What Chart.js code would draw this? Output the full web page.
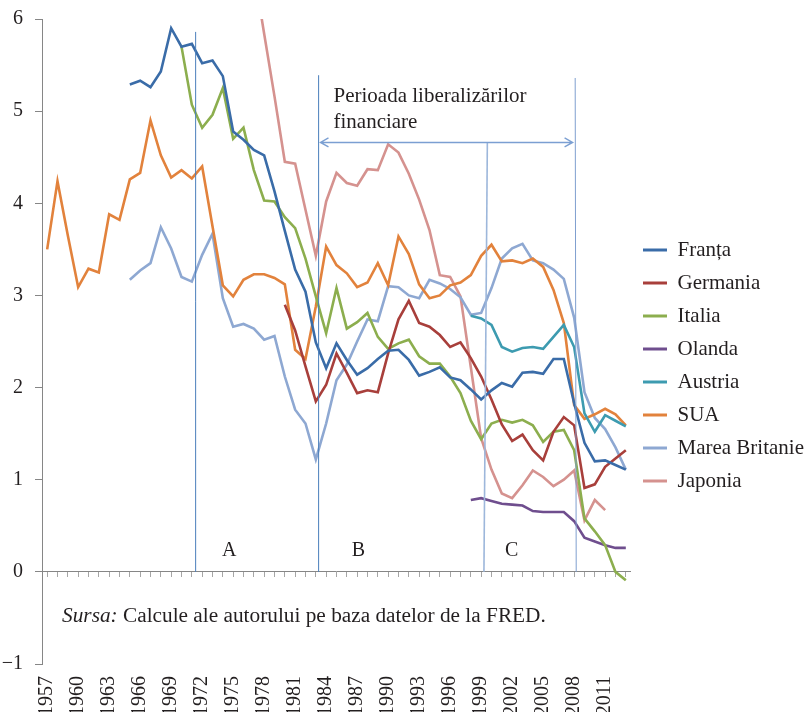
<!DOCTYPE html>
<html>
<head>
<meta charset="utf-8">
<script src="https://cdn.jsdelivr.net/npm/chart.js@4.4.1/dist/chart.umd.min.js"></script>
<style>
  html, body { margin: 0; padding: 0; background: #fff; }
  #wrap { width: 806px; height: 717px; }
</style>
</head>
<body>
<div id="wrap"><canvas id="grafic" width="806" height="717"></canvas></div>
<script>
// ani 1957 - 2013
const ani = [1957, 1958, 1959, 1960, 1961, 1962, 1963, 1964, 1965, 1966,
  1967, 1968, 1969, 1970, 1971, 1972, 1973, 1974, 1975, 1976,
  1977, 1978, 1979, 1980, 1981, 1982, 1983, 1984, 1985, 1986,
  1987, 1988, 1989, 1990, 1991, 1992, 1993, 1994, 1995, 1996,
  1997, 1998, 1999, 2000, 2001, 2002, 2003, 2004, 2005, 2006,
  2007, 2008, 2009, 2010, 2011, 2012, 2013]

const _ = null

const franta = [_, _, _, _, _, _, _, _, 5.29, 5.33,
  5.26, 5.43, 5.90, 5.70, 5.73, 5.52, 5.55, 5.38, 4.78, 4.69,
  4.58, 4.52, 4.13, 3.70, 3.28, 3.04, 2.49, 2.21, 2.48, 2.30,
  2.14, 2.21, 2.31, 2.40, 2.41, 2.30, 2.13, 2.17, 2.22, 2.11,
  2.08, 1.98, 1.87, 1.97, 2.05, 2.01, 2.16, 2.17, 2.15, 2.31,
  2.31, 1.83, 1.40, 1.20, 1.21, 1.16, 1.11]

const germania = [_, _, _, _, _, _, _, _, _, _,
  _, _, _, _, _, _, _, _, _, _,
  _, _, _, 2.90, 2.62, 2.23, 1.85, 2.03, 2.37, 2.16,
  1.94, 1.97, 1.95, 2.37, 2.74, 2.94, 2.70, 2.66, 2.57, 2.44,
  2.49, 2.32, 2.12, 1.87, 1.60, 1.42, 1.49, 1.32, 1.21, 1.52,
  1.68, 1.59, 0.91, 0.95, 1.14, 1.23, 1.32]

const italia = [_, _, _, _, _, _, _, _, _, _,
  _, _, _, 5.70, 5.07, 4.82, 4.96, 5.25, 4.70, 4.82,
  4.36, 4.03, 4.02, 3.85, 3.73, 3.40, 2.99, 2.59, 3.08, 2.64,
  2.71, 2.81, 2.55, 2.42, 2.48, 2.52, 2.34, 2.26, 2.26, 2.12,
  1.94, 1.64, 1.44, 1.61, 1.65, 1.62, 1.65, 1.59, 1.41, 1.52,
  1.54, 1.32, 0.58, 0.44, 0.29, 0.00, -0.09]

const olanda = [_, _, _, _, _, _, _, _, _, _,
  _, _, _, _, _, _, _, _, _, _,
  _, _, _, _, _, _, _, _, _, _,
  _, _, _, _, _, _, _, _, _, _,
  _, 0.78, 0.80, 0.77, 0.74, 0.73, 0.72, 0.66, 0.65, 0.65,
  0.65, 0.55, 0.37, 0.33, 0.29, 0.26, 0.26]

const austria = [_, _, _, _, _, _, _, _, _, _,
  _, _, _, _, _, _, _, _, _, _,
  _, _, _, _, _, _, _, _, _, _,
  _, _, _, _, _, _, _, _, _, _,
  _, 2.78, 2.75, 2.68, 2.44, 2.39, 2.43, 2.44, 2.42, 2.55,
  2.68, 2.44, 1.72, 1.52, 1.70, 1.64, 1.58]

const sua = [3.50, 4.24, 3.65, 3.09, 3.29, 3.25, 3.88, 3.82, 4.26, 4.33,
  4.90, 4.52, 4.28, 4.36, 4.27, 4.40, 3.75, 3.11, 2.99, 3.17,
  3.23, 3.23, 3.19, 3.12, 2.41, 2.31, 2.88, 3.53, 3.33, 3.24,
  3.09, 3.14, 3.35, 3.11, 3.64, 3.45, 3.12, 2.97, 3.00, 3.11,
  3.14, 3.22, 3.43, 3.55, 3.37, 3.38, 3.35, 3.40, 3.31, 3.06,
  2.70, 1.81, 1.66, 1.71, 1.77, 1.71, 1.59]

const mareaBritanie = [_, _, _, _, _, _, _, _, 3.17, 3.27,
  3.35, 3.74, 3.51, 3.20, 3.15, 3.44, 3.67, 2.97, 2.66, 2.69,
  2.64, 2.52, 2.56, 2.12, 1.76, 1.61, 1.22, 1.61, 2.08, 2.25,
  2.50, 2.74, 2.72, 3.10, 3.09, 3.00, 2.97, 3.17, 3.13, 3.07,
  2.98, 2.79, 2.81, 3.08, 3.40, 3.51, 3.56, 3.38, 3.35, 3.28,
  3.18, 2.76, 1.95, 1.67, 1.55, 1.35, 1.11]

const japonia = [_, _, _, _, _, _, _, _, _, _,
  _, _, _, _, _, _, _, _, _, _,
  6.53, 5.84, 5.16, 4.45, 4.43, 3.93, 3.43, 4.02, 4.33, 4.22,
  4.19, 4.37, 4.36, 4.64, 4.55, 4.32, 4.04, 3.71, 3.22, 3.20,
  2.99, 2.22, 1.45, 1.11, 0.85, 0.80, 0.94, 1.10, 1.03, 0.93,
  1.00, 1.10, 0.56, 0.78, 0.67, _, _]

const serii = [
  { nume: "Franța", culoare: "#3A6CA8", date: franta },
  { nume: "Germania", culoare: "#A83F3B", date: germania },
  { nume: "Italia", culoare: "#8CAE4E", date: italia },
  { nume: "Olanda", culoare: "#6F4E8E", date: olanda },
  { nume: "Austria", culoare: "#3D9BB0", date: austria },
  { nume: "SUA", culoare: "#E2823C", date: sua },
  { nume: "Marea Britanie", culoare: "#8EA8D2", date: mareaBritanie },
  { nume: "Japonia", culoare: "#D5928F", date: japonia },
]

// linii verticale (an sus/jos, valoare sus) si perioade
const liniiVerticale = [
  { an: [1971.37, 1971.37], sus: 5.86, culoare: "#4A7EBB", grosime: 1 },
  { an: [1983.27, 1983.27], sus: 5.39, culoare: "#4A7EBB", grosime: 1 },
  { an: [1999.6, 1999.27], sus: 4.66, culoare: "#9DB7DB", grosime: 1.6 },
  { an: [2008.1, 2008.2], sus: 5.36, culoare: "#7F9FCF", grosime: 1 },
]
const sageata = { de: 1983.45, pana: 2007.85, nivel: 4.66 }
const eticheteZone = [
  { text: "A", an: 1974.63 },
  { text: "B", an: 1987.13 },
  { text: "C", an: 2001.96 },
]

const FONT = "'Liberation Serif', 'Times New Roman', serif"
const TEXT = "#231F20"
const AX = "#868686"

const indice = (an) => an - ani[0]

const adnotari = {
  id: "adnotari",
  afterDatasetsDraw(chart) {
    const { ctx } = chart
    const x = chart.scales.x
    const y = chart.scales.y
    ctx.save()

    liniiVerticale.forEach((l) => {
      ctx.beginPath()
      ctx.strokeStyle = l.culoare
      ctx.lineWidth = l.grosime
      ctx.moveTo(x.getPixelForValue(indice(l.an[0])), y.getPixelForValue(l.sus))
      ctx.lineTo(x.getPixelForValue(indice(l.an[1])), y.getPixelForValue(0))
      ctx.stroke()
    })

    // sageata dubla
    const x1 = x.getPixelForValue(indice(sageata.de))
    const x2 = x.getPixelForValue(indice(sageata.pana))
    const ys = y.getPixelForValue(sageata.nivel)
    ctx.strokeStyle = "#7B9FD2"
    ctx.lineWidth = 1.4
    ctx.beginPath()
    ctx.moveTo(x1, ys)
    ctx.lineTo(x2, ys)
    ctx.moveTo(x1 + 8, ys - 4.5)
    ctx.lineTo(x1, ys)
    ctx.lineTo(x1 + 8, ys + 4.5)
    ctx.moveTo(x2 - 8, ys - 4.5)
    ctx.lineTo(x2, ys)
    ctx.lineTo(x2 - 8, ys + 4.5)
    ctx.stroke()

    ctx.fillStyle = TEXT
    ctx.textBaseline = "alphabetic"
    ctx.font = "21px " + FONT
    ctx.textAlign = "left"
    ctx.fillText("Perioada liberalizărilor", x.getPixelForValue(indice(1984.71)), y.getPixelForValue(5.10))
    ctx.fillText("financiare", x.getPixelForValue(indice(1984.71)), y.getPixelForValue(4.82))

    ctx.font = "20px " + FONT
    ctx.textAlign = "center"
    eticheteZone.forEach((e) => {
      ctx.fillText(e.text, x.getPixelForValue(indice(e.an)), y.getPixelForValue(0.17))
    })

    // sursa
    const sx = x.getPixelForValue(indice(1958.44))
    const sy = y.getPixelForValue(-0.54)
    ctx.textAlign = "left"
    ctx.font = "italic 21.3px " + FONT
    ctx.fillText("Sursa:", sx, sy)
    const w = ctx.measureText("Sursa: ").width
    ctx.font = "21.3px " + FONT
    ctx.fillText("Calcule ale autorului pe baza datelor de la FRED.", sx + w, sy)

    ctx.restore()
  },
}

const ctx = document.getElementById("grafic").getContext("2d")
new Chart(ctx, {
  type: "line",
  data: {
    labels: ani,
    datasets: serii.map((s) => ({
      label: s.nume,
      data: s.date,
      borderColor: s.culoare,
      backgroundColor: s.culoare,
      borderWidth: 2.6,
      pointRadius: 0,
      tension: 0,
      fill: false,
    })),
  },
  options: {
    responsive: false,
    animation: false,
    devicePixelRatio: 1,
    layout: { padding: { top: 19, right: -8, bottom: 5, left: 0 } },
    plugins: {
      legend: {
        position: "right",
        labels: {
          boxWidth: 24,
          boxHeight: 3,
          padding: 12,
          color: TEXT,
          font: { family: FONT, size: 21 },
          generateLabels: (chart) =>
            Chart.defaults.plugins.legend.labels.generateLabels(chart).map((l) => ({ ...l, lineWidth: 0 })),
        },
      },
      tooltip: { enabled: false },
    },
    scales: {
      x: {
        type: "category",
        position: "bottom",
        offset: true,
        grid: { display: false, drawTicks: false },
        border: { display: false },
        ticks: {
          autoSkip: false,
          maxRotation: 90,
          minRotation: 90,
          padding: 12,
          color: TEXT,
          font: { family: FONT, size: 20 },
          callback: (v, i) => ((ani[i] - 1957) % 3 === 0 ? String(ani[i]) : ""),
        },
        afterFit: (s) => { s.height = 48 },
      },
      xZero: {
        type: "category",
        labels: ani,
        position: { y: 0 },
        offset: true,
        grid: { display: true, drawOnChartArea: false, drawTicks: true, tickLength: 5, color: "#A6A6A6" },
        border: { display: true, color: AX, width: 1 },
        ticks: { display: false, autoSkip: false },
      },
      y: {
        min: -1,
        max: 6,
        ticks: {
          stepSize: 1,
          padding: 12,
          color: TEXT,
          font: { family: FONT, size: 20 },
          callback: (v) => (v < 0 ? "\u2212" + Math.abs(v) : String(v)),
        },
        grid: { drawOnChartArea: false, drawTicks: true, tickLength: 7, color: AX },
        border: { display: true, color: AX, width: 1 },
        afterFit: (s) => {
          s.width = 42
          s.paddingTop = 0
          s.paddingBottom = 0
        },
      },
    },
  },
  plugins: [adnotari],
})
</script>
</body>
</html>
